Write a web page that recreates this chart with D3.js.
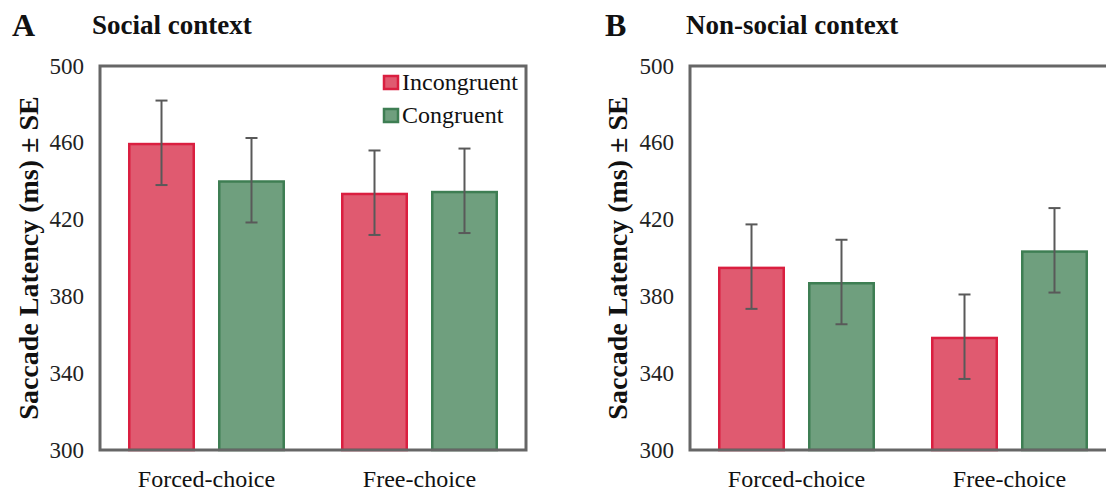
<!DOCTYPE html>
<html>
<head>
<meta charset="utf-8">
<script src="https://cdn.jsdelivr.net/npm/d3@7"></script>
<style>
  body { margin: 0; background: #fff; }
  text { font-family: "Liberation Serif", "Times New Roman", serif; fill: #111; }
</style>
</head>
<body>
<div id="chart"></div>
<script>
// data
const categories = ["Forced-choice", "Free-choice"];
const series = ["Incongruent", "Congruent"];
const yTicks = [300, 340, 380, 420, 460, 500];

const socialIncongruent = [460, 434];
const socialCongruent = [440.5, 435];
const socialIncongruentSE = [22, 22];
const socialCongruentSE = [22, 22];

const nonSocialIncongruent = [395.5, 359];
const nonSocialCongruent = [387.5, 404];
const nonSocialIncongruentSE = [22, 22];
const nonSocialCongruentSE = [22, 22];

const fills = { Incongruent: "#e05a70", Congruent: "#6f9f7e" };
const strokes = { Incongruent: "#da1f40", Congruent: "#3e7e53" };

const W = 1106, H = 491;
const svg = d3.select("#chart").append("svg").attr("width", W).attr("height", H);

const y = d3.scaleLinear().domain([300, 500]).range([450, 66]);

function drawPanel(opts) {
  const { left, letter, letterX, title, titleX, inc, cong, incSE, congSE, legend, axisTitleX } = opts;
  const plotW = 426;
  const x = d3.scaleBand().domain(categories).range([left, left + plotW]).paddingInner(0.263).paddingOuter(0.1315);
  const xs = d3.scaleBand().domain(series).range([0, x.bandwidth()]).paddingInner(0.2556).paddingOuter(0);

  const rows = [];
  categories.forEach((c, i) => {
    rows.push({ cat: c, s: "Incongruent", v: inc[i], se: incSE[i] });
    rows.push({ cat: c, s: "Congruent", v: cong[i], se: congSE[i] });
  });

  // panel label + title
  svg.append("text").attr("x", letterX).attr("y", 36).style("font-size", "32px").style("font-weight", "bold").text(letter);
  svg.append("text").attr("x", titleX).attr("y", 34).style("font-size", "27px").style("font-weight", "bold").text(title);

  // y tick labels
  svg.append("g").selectAll("text").data(yTicks).enter().append("text")
    .attr("x", left - 16).attr("y", d => y(d)).attr("text-anchor", "end").attr("dominant-baseline", "central")
    .style("font-size", "23px").style("fill", "#222").text(d => d);

  svg.append("text").attr("text-anchor", "middle")
    .attr("transform", `translate(${axisTitleX},${(y(300) + y(500)) / 2}) rotate(-90)`)
    .attr("dominant-baseline", "central")
    .style("font-size", "28px").style("font-weight", "bold").text("Saccade Latency (ms) \u00b1 SE");

  // bars
  const sw = 2.5;
  svg.append("g").selectAll("rect").data(rows).enter().append("rect")
    .attr("x", d => x(d.cat) + xs(d.s) + sw / 2)
    .attr("y", d => y(d.v) + sw / 2)
    .attr("width", xs.bandwidth() - sw)
    .attr("height", d => y(300) - y(d.v) - sw / 2)
    .attr("fill", d => fills[d.s]).attr("stroke", d => strokes[d.s]).attr("stroke-width", sw);

  // error bars
  const eb = svg.append("g").attr("stroke", "#595959").attr("stroke-width", 2);
  rows.forEach(d => {
    const cx = x(d.cat) + xs(d.s) + xs.bandwidth() / 2;
    eb.append("line").attr("x1", cx).attr("x2", cx).attr("y1", y(d.v + d.se)).attr("y2", y(d.v - d.se));
    [d.v + d.se, d.v - d.se].forEach(v => {
      eb.append("line").attr("x1", cx - 6).attr("x2", cx + 6).attr("y1", y(v)).attr("y2", y(v));
    });
  });

  // plot frame
  svg.append("rect").attr("x", left).attr("y", y(500)).attr("width", plotW).attr("height", y(300) - y(500))
    .attr("fill", "none").attr("stroke", "#666").attr("stroke-width", 3);

  // x labels
  svg.append("g").selectAll("text").data(categories).enter().append("text")
    .attr("x", d => x(d) + x.bandwidth() / 2).attr("y", 487).attr("text-anchor", "middle")
    .style("font-size", "24px").text(d => d);

  if (legend) {
    const lg = svg.append("g").attr("transform", `translate(${left + 284},76)`);
    series.forEach((s, i) => {
      lg.append("rect").attr("x", 0).attr("y", i * 33).attr("width", 14).attr("height", 13)
        .attr("fill", fills[s]).attr("stroke", strokes[s]).attr("stroke-width", 2.5);
      lg.append("text").attr("x", 18).attr("y", i * 33 + 14).style("font-size", "24px").text(s);
    });
  }
}

drawPanel({ left: 100, letter: "A", letterX: 12, title: "Social context", titleX: 92,
  inc: socialIncongruent, cong: socialCongruent, incSE: socialIncongruentSE, congSE: socialCongruentSE,
  legend: true, axisTitleX: 28 });
drawPanel({ left: 690, letter: "B", letterX: 605, title: "Non-social context", titleX: 686,
  inc: nonSocialIncongruent, cong: nonSocialCongruent, incSE: nonSocialIncongruentSE, congSE: nonSocialCongruentSE,
  legend: false, axisTitleX: 617 });
</script>
</body>
</html>
